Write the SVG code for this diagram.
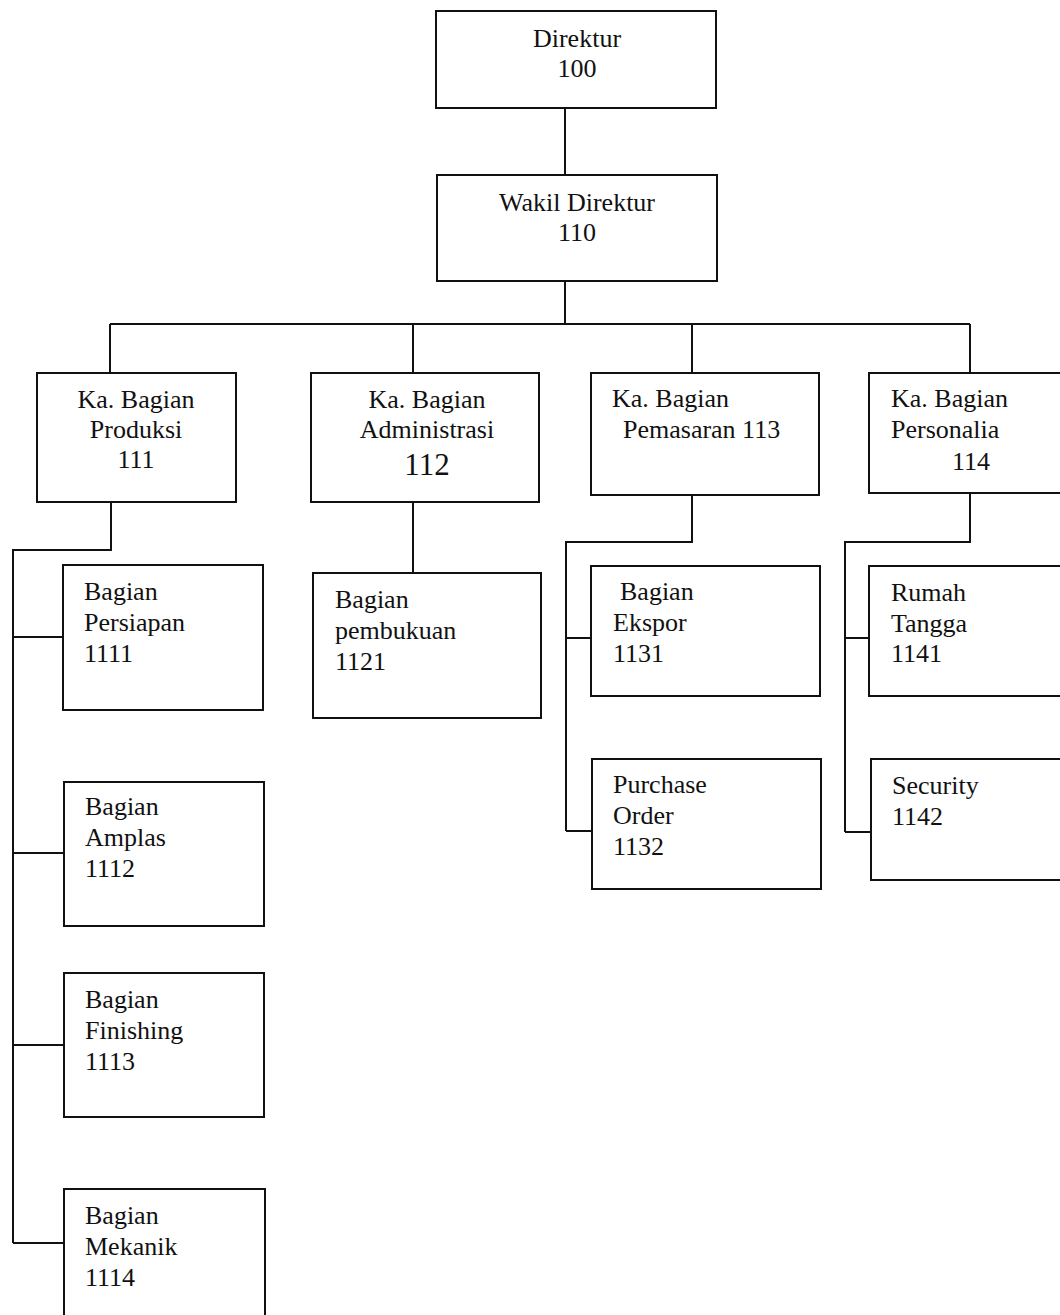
<svg xmlns="http://www.w3.org/2000/svg" width="1060" height="1315" viewBox="0 0 1060 1315">
<style>
rect{fill:#fff;stroke:#111;stroke-width:2}
#connectors path{fill:none;stroke:#111;stroke-width:2}
text{font-family:"Liberation Serif","Times New Roman",serif;font-size:26px;fill:#111}
.c{text-anchor:middle}
.big{font-size:31px}
</style>
<rect x="0" y="0" width="1060" height="1315" style="stroke:none"/>
<g id="connectors">
<path d="M565 108V175"/>
<path d="M565 281V324M110 324H970M110 324V373M413 324V373M692 324V373M970 324V373"/>
<path d="M111 502V550H13V1243M13 637H63M13 853H64M13 1045H64M13 1243H64"/>
<path d="M413 502V573"/>
<path d="M692 495V542H566V831M566 638H591M566 831H592"/>
<path d="M970 493V542H845V832M845 638H869M845 832H871"/>
</g>
<g id="n100"><rect x="436" y="11" width="280" height="97"/><text class="c" x="577" y="47">Direktur</text><text class="c" x="577" y="77">100</text></g>
<g id="n110"><rect x="437" y="175" width="280" height="106"/><text class="c" x="577" y="211">Wakil Direktur</text><text class="c" x="577" y="241">110</text></g>
<g id="n111"><rect x="37" y="373" width="199" height="129"/><text class="c" x="136" y="408">Ka. Bagian</text><text class="c" x="136" y="438">Produksi</text><text class="c" x="136" y="468">111</text></g>
<g id="n112"><rect x="311" y="373" width="228" height="129"/><text class="c" x="427" y="408">Ka. Bagian</text><text class="c" x="427" y="438">Administrasi</text><text class="c big" x="427" y="475">112</text></g>
<g id="n113"><rect x="591" y="373" width="228" height="122"/><text x="612" y="407">Ka. Bagian</text><text x="623" y="438">Pemasaran 113</text></g>
<g id="n114"><rect x="869" y="373" width="200" height="120"/><text x="891" y="407">Ka. Bagian</text><text x="891" y="438">Personalia</text><text x="952" y="470">114</text></g>
<g id="n1111"><rect x="63" y="565" width="200" height="145"/><text x="84" y="600">Bagian</text><text x="84" y="631">Persiapan</text><text x="84" y="662">1111</text></g>
<g id="n1112"><rect x="64" y="782" width="200" height="144"/><text x="85" y="815">Bagian</text><text x="85" y="846">Amplas</text><text x="85" y="877">1112</text></g>
<g id="n1113"><rect x="64" y="973" width="200" height="144"/><text x="85" y="1008">Bagian</text><text x="85" y="1039">Finishing</text><text x="85" y="1070">1113</text></g>
<g id="n1114"><rect x="64" y="1189" width="201" height="140"/><text x="85" y="1224">Bagian</text><text x="85" y="1255">Mekanik</text><text x="85" y="1286">1114</text></g>
<g id="n1121"><rect x="313" y="573" width="228" height="145"/><text x="335" y="608">Bagian</text><text x="335" y="639">pembukuan</text><text x="335" y="670">1121</text></g>
<g id="n1131"><rect x="591" y="566" width="229" height="130"/><text x="620" y="600">Bagian</text><text x="613" y="631">Ekspor</text><text x="613" y="662">1131</text></g>
<g id="n1132"><rect x="592" y="759" width="229" height="130"/><text x="613" y="793">Purchase</text><text x="613" y="824">Order</text><text x="613" y="855">1132</text></g>
<g id="n1141"><rect x="869" y="566" width="200" height="130"/><text x="891" y="601">Rumah</text><text x="891" y="632">Tangga</text><text x="891" y="662">1141</text></g>
<g id="n1142"><rect x="871" y="759" width="200" height="121"/><text x="892" y="794">Security</text><text x="892" y="825">1142</text></g>
</svg>
